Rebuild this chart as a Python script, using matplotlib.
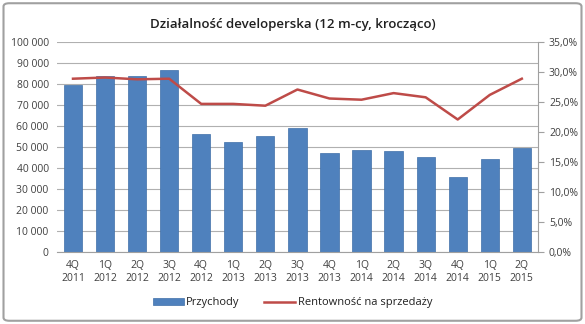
import matplotlib
matplotlib.use('Agg')
import matplotlib.pyplot as plt
from matplotlib.patches import FancyBboxPatch
from matplotlib.ticker import FuncFormatter

# data
quarters = ['4Q\n2011', '1Q\n2012', '2Q\n2012', '3Q\n2012', '4Q\n2012', '1Q\n2013', '2Q\n2013',
            '3Q\n2013', '4Q\n2013', '1Q\n2014', '2Q\n2014', '3Q\n2014', '4Q\n2014', '1Q\n2015', '2Q\n2015']
przychody = [79500, 83800, 83700, 86500, 56000, 52300, 55200, 59300,
             47000, 48600, 48200, 45200, 35700, 44300, 49500]
rentownosc = [28.9, 29.1, 28.8, 28.9, 24.7, 24.7, 24.4, 27.1,
              25.6, 25.4, 26.5, 25.8, 22.1, 26.2, 28.9]

plt.rcParams['font.family'] = ['Open Sans', 'DejaVu Sans']

fig = plt.figure(figsize=(5.85, 3.24), dpi=100)
fig.patches.append(FancyBboxPatch((0.006, 0.01), 0.988, 0.98, boxstyle='round,pad=0,rounding_size=0.01',
                                  transform=fig.transFigure, fill=False, edgecolor='#a0a0a0', linewidth=1.5))

ax = fig.add_axes([0.0974, 0.222, 0.822, 0.648])
x = list(range(len(quarters)))
bars = ax.bar(x, przychody, width=0.57, color='#4f81bd', edgecolor='#3f6fa8', linewidth=0.5,
              label='Przychody', zorder=2)
ax.set_ylim(0, 100000)
ax.set_yticks(range(0, 100001, 10000))
ax.yaxis.set_major_formatter(FuncFormatter(lambda v, p: '{:,.0f}'.format(v).replace(',', ' ')))
ax.set_xlim(-0.5, len(quarters) - 0.5)
ax.set_xticks(x)
ax.set_xticklabels(quarters)
ax.grid(axis='y', color='#b0b0b0', linewidth=0.8, zorder=0)
ax.set_axisbelow(True)
for s in ['top', 'right', 'left']:
    ax.spines[s].set_visible(False)
ax.spines['bottom'].set_color('#a0a0a0')
ax.tick_params(axis='y', length=0, labelsize=7.5, colors='#404040', pad=6)
ax.tick_params(axis='x', length=0, labelsize=7.5, colors='#404040', pad=6)

ax2 = ax.twinx()
line, = ax2.plot(x, rentownosc, color='#be4b48', linewidth=1.8, label='Rentowność na sprzedaży', zorder=3)
ax2.set_ylim(0, 35)
ax2.set_yticks(range(0, 36, 5))
ax2.yaxis.set_major_formatter(FuncFormatter(lambda v, p: '{:.1f}%'.format(v).replace('.', ',')))
for s in ['top', 'left', 'bottom']:
    ax2.spines[s].set_visible(False)
ax2.spines['right'].set_color('#a0a0a0')
ax2.tick_params(axis='y', length=4, color='#a0a0a0', labelsize=7.5, colors='#404040', pad=4)
ax2.tick_params(axis='y', color='#a0a0a0')

fig.text(0.5, 0.925, 'Działalność developerska (12 m-cy, krocząco)', ha='center', va='center',
         fontsize=9.5, fontweight='semibold', color='#202020')

leg = fig.legend([bars, line], ['Przychody', 'Rentowność na sprzedaży'], loc='center',
                 bbox_to_anchor=(0.5, 0.065), ncol=2, frameon=False, fontsize=8,
                 handlelength=2.8, columnspacing=2.2, handletextpad=0.2)
for t in leg.get_texts():
    t.set_color('#202020')

fig.savefig('out.png', dpi=100)
